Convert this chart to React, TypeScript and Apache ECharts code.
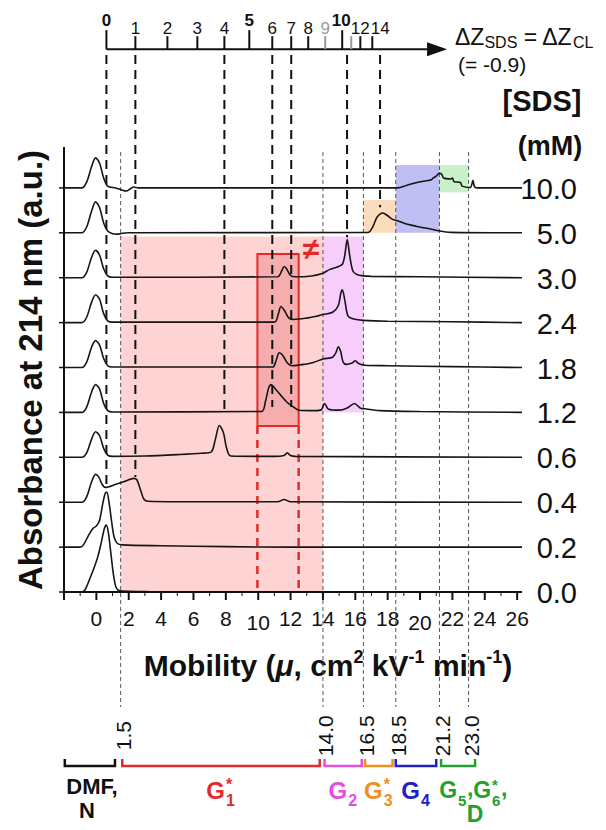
import React, { useEffect, useRef } from 'react';
import * as echarts from 'echarts';

const FONT = '"Liberation Sans", Arial, Helvetica, sans-serif';

const X_MIN = -2;
const X_MAX = 26.3;
const Y_MIN = -5.3;
const Y_MAX = 13.185;

// [SDS] (mM) of each trace, bottom to top; trace i sits on baseline i
const sdsLabels = ['0.0', '0.2', '0.4', '0.6', '1.2', '1.8', '2.4', '3.0', '5.0', '10.0'];

// traces: [mobility, absorbance above own baseline]
const trace00 = [[-2, 0], [-0.9, 0], [-0.7, 0.05], [-0.4, 0.3], [-0.1, 0.58], [0.1, 0.8], [0.3, 1.1], [0.5, 1.42], [0.62, 1.49], [0.75, 1.3], [0.9, 0.85], [1.05, 0.4], [1.2, 0.12], [1.35, 0.04], [1.6, 0.02], [3, 0.01], [4, 0], [26.3, 0]];
const trace02 = [[-2, 0], [-1.0, 0], [-0.8, 0.05], [-0.5, 0.25], [-0.2, 0.42], [0, 0.47], [0.2, 0.6], [0.4, 0.98], [0.55, 1.2], [0.65, 1.22], [0.8, 0.95], [0.95, 0.55], [1.1, 0.22], [1.3, 0.08], [1.6, 0.05], [4, 0.03], [8, 0.01], [12, 0], [26.3, 0]];
const trace04 = [[-2, 0], [-0.9, 0], [-0.6, 0.12], [-0.3, 0.45], [-0.05, 0.62], [0.15, 0.56], [0.35, 0.4], [0.55, 0.33], [1.2, 0.4], [1.8, 0.47], [2.3, 0.53], [2.5, 0.5], [2.75, 0.25], [2.95, 0.06], [3.2, 0.02], [5, 0.01], [11.2, 0.01], [11.6, 0.06], [12, 0.01], [26.3, 0]];
const trace06 = [[-2, 0], [-0.9, 0], [-0.6, 0.1], [-0.3, 0.4], [-0.05, 0.57], [0.2, 0.48], [0.45, 0.2], [0.7, 0.05], [1, 0.02], [3, 0.03], [5, 0.06], [6.5, 0.09], [7.1, 0.12], [7.35, 0.4], [7.6, 0.71], [7.85, 0.55], [8.05, 0.2], [8.3, 0.03], [11, 0.02], [11.6, 0.04], [11.8, 0.1], [12, 0.04], [12.3, 0.02], [26.3, 0]];
const trace12 = [[-2, 0], [-0.9, 0], [-0.6, 0.12], [-0.3, 0.45], [-0.05, 0.62], [0.2, 0.52], [0.45, 0.2], [0.7, 0.04], [1, 0.01], [10.2, 0.02], [10.45, 0.25], [10.65, 0.55], [10.8, 0.62], [11, 0.55], [11.4, 0.38], [11.8, 0.22], [12.1, 0.14], [12.5, 0.05], [13.5, 0.04], [13.9, 0.06], [14.1, 0.2], [14.35, 0.07], [15, 0.05], [15.5, 0.1], [15.95, 0.2], [16.3, 0.1], [16.6, 0.08], [17.5, 0.04], [20, 0.02], [26.3, 0]];
const trace18 = [[-2, 0], [-0.9, 0], [-0.6, 0.12], [-0.3, 0.45], [-0.05, 0.6], [0.2, 0.5], [0.45, 0.2], [0.7, 0.04], [1, 0.01], [10.9, 0.01], [11.1, 0.15], [11.3, 0.33], [11.5, 0.28], [11.8, 0.1], [12.1, 0.04], [13, 0.08], [13.4, 0.11], [14, 0.19], [14.6, 0.23], [14.8, 0.33], [14.95, 0.46], [15.1, 0.35], [15.25, 0.12], [15.45, 0.07], [15.8, 0.1], [16, 0.15], [16.2, 0.09], [16.6, 0.05], [18, 0.04], [22, 0.02], [26.3, 0]];
const trace24 = [[-2, 0], [-0.9, 0], [-0.6, 0.12], [-0.3, 0.45], [-0.05, 0.62], [0.2, 0.52], [0.45, 0.2], [0.7, 0.04], [1, 0.01], [11, 0.01], [11.25, 0.2], [11.4, 0.36], [11.6, 0.28], [11.9, 0.1], [12.2, 0.07], [13, 0.1], [13.6, 0.14], [14, 0.18], [14.6, 0.23], [14.95, 0.38], [15.1, 0.65], [15.2, 0.73], [15.35, 0.5], [15.55, 0.15], [15.9, 0.08], [16.5, 0.05], [18, 0.03], [22, 0.02], [26.3, 0]];
const trace30 = [[-2, 0], [-0.9, 0], [-0.6, 0.12], [-0.3, 0.45], [-0.05, 0.61], [0.2, 0.5], [0.45, 0.2], [0.7, 0.04], [1, 0.01], [11.2, 0.02], [11.45, 0.15], [11.6, 0.25], [11.75, 0.2], [12, 0.05], [12.3, 0.02], [13.3, 0.04], [14, 0.1], [14.4, 0.18], [14.9, 0.24], [15.2, 0.3], [15.35, 0.5], [15.5, 0.85], [15.65, 0.5], [15.85, 0.15], [16.1, 0.07], [16.5, 0.04], [17, 0.03], [20, 0.02], [26.3, 0]];
const trace50 = [[-2, 0], [-0.9, 0], [-0.6, 0.13], [-0.3, 0.48], [-0.05, 0.69], [0.2, 0.56], [0.45, 0.22], [0.7, 0.04], [1, -0.02], [1.3, -0.03], [1.6, -0.01], [2, 0], [16.8, 0.01], [17.1, 0.15], [17.35, 0.35], [17.7, 0.44], [18, 0.38], [18.3, 0.3], [18.6, 0.27], [19.1, 0.2], [19.6, 0.16], [20.1, 0.12], [20.6, 0.09], [21.2, 0.04], [21.9, 0.01], [26.3, 0]];
const trace100 = [[-2, 0], [-0.9, 0], [-0.6, 0.13], [-0.3, 0.47], [-0.05, 0.67], [0.2, 0.55], [0.45, 0.22], [0.7, 0.04], [1.2, 0], [1.6, -0.05], [1.85, -0.07], [2.1, -0.02], [2.3, 0.02], [2.6, 0], [18.6, 0], [19.2, 0.06], [19.8, 0.12], [20.4, 0.16], [20.7, 0.18], [20.8, 0.22], [21, 0.26], [21.2, 0.33], [21.35, 0.3], [21.45, 0.22], [21.9, 0.2], [22, 0.22], [22.1, 0.14], [22.5, 0.12], [22.6, 0.04], [23.1, 0.01], [23.2, 0.08], [23.27, 0.17], [23.35, 0.04], [23.5, 0], [26.3, 0]];
const traces = [trace00, trace02, trace04, trace06, trace12, trace18, trace24, trace30, trace50, trace100];

// bottom mobility axis
const xMajorTicks = [-2, 0, 2, 4, 6, 8, 10, 12, 14, 16, 18, 20, 22, 24, 26];
const xMinorTicks = [-1, 1, 3, 5, 7, 9, 11, 13, 15, 17, 19, 21, 23, 25];
const xTickLabels = ['', '0', '2', '4', '6', '8', '10', '12', '14', '16', '18', '20', '22', '24', '26'];
const yAxisTop = 9.91;

// top ΔZ axis: label and mobility position of each tick
const topTickLabels = ['0', '1', '2', '3', '4', '5', '6', '7', '8', '9', '10', '', '12', '14'];
const topTickMu = [0.62, 2.41, 4.39, 6.24, 7.91, 9.45, 10.87, 12.04, 13.09, 14.14, 15.19, 15.75, 16.31, 17.05];
const topAxisY = 12.09;
const topArrowEnd = 21.67;

// dashed guides from the ΔZ axis down to the peaks
const guideMu = [0.62, 2.41, 7.91, 10.87, 12.04, 15.49, 17.53];
const guideEnd = [2.27, 2.56, 3.94, 4.12, 4.12, 7.9, 8.57];
const guideTop = 11.96;

// group boundaries (mobility)
const regionBounds = [1.5, 14.0, 16.5, 18.5, 21.2, 23.0];
const boundLabels = ['1.5', '14.0', '16.5', '18.5', '21.2', '23.0'];
const boundTop = 9.8;
const boundBottom = -2.56;
const boundLabelY = -3.2;

// shaded regions
const shadeX0 = [1.5, 14.0, 16.5, 18.5, 21.2];
const shadeX1 = [14.0, 16.5, 18.5, 21.2, 23.0];
const shadeY0 = [0, 4.0, 8.0, 8.0, 8.9];
const shadeY1 = [7.92, 7.92, 8.73, 9.51, 9.51];
const shadeColors = ['#fdd3d3', '#f6cdfb', '#fbdcbd', '#bfbff3', '#c8f1c8'];

// red highlight box and its dashed legs
const boxX = [9.95, 12.5];
const boxY = [3.7, 7.53];
const neqPos = [13.26, 7.66];

// group brackets
const bracketStart = [-1.95, 1.6, 14.1, 16.6, 18.5, 21.3];
const bracketEnd = [1.15, 13.8, 16.4, 18.3, 21.0, 23.4];
const bracketY = -3.875;
const groupLabelY = -4.41;
const groupSub = ['', '1', '2', '3', '4', '5'];
const groupStar = [false, true, false, true, false, false];
const groupColors = ['#111111', '#e42a2a', '#e34fe3', '#ef8f1e', '#2020c4', '#22a030'];

const txt = (text: string, x: number, y: number, size: number, color: string, o: any = {}) => ({
  type: 'text',
  x,
  y,
  rotation: o.rotation || 0,
  scaleX: o.scaleX || 1,
  style: {
    text,
    fill: color,
    fontSize: size,
    fontWeight: o.weight || 'normal',
    fontFamily: FONT,
    align: o.align || 'center',
    verticalAlign: o.va || 'middle',
    textAlign: o.align || 'center',
    textVerticalAlign: o.va || 'middle',
    rich: o.rich,
  },
});

const vlines = (xs: number[], y0: number[], y1: number[], style: any, z: number) => ({
  type: 'custom',
  coordinateSystem: 'cartesian2d',
  silent: true,
  z,
  data: xs.map((x, i) => [x, y0[i], y1[i]]),
  renderItem: (params: any, api: any) => {
    const a = api.coord([api.value(0), api.value(1)]);
    const b = api.coord([api.value(0), api.value(2)]);
    return { type: 'line', shape: { x1: a[0], y1: a[1], x2: b[0], y2: b[1] }, style: { ...style, fill: null } };
  },
});

export default function App() {
  const ref = useRef<HTMLDivElement>(null);
  useEffect(() => {
    document.body.style.margin = '0';
    const chart = echarts.init(ref.current!, null, { renderer: 'svg' });

    const series: any[] = [];

    // shaded regions
    series.push({
      type: 'custom', coordinateSystem: 'cartesian2d', silent: true, z: 1,
      data: shadeX0.map((x, i) => [x, shadeY0[i], shadeX1[i], shadeY1[i]]),
      renderItem: (params: any, api: any) => {
        const p0 = api.coord([api.value(0), api.value(1)]);
        const p1 = api.coord([api.value(2), api.value(3)]);
        return {
          type: 'rect',
          shape: { x: p0[0], y: p1[1], width: p1[0] - p0[0], height: p0[1] - p1[1] },
          style: { fill: shadeColors[params.dataIndex] },
        };
      },
    });
    // red box
    series.push({
      type: 'custom', coordinateSystem: 'cartesian2d', silent: true, z: 2,
      data: [[boxX[0], boxY[0], boxX[1], boxY[1]]],
      renderItem: (params: any, api: any) => {
        const p0 = api.coord([api.value(0), api.value(1)]);
        const p1 = api.coord([api.value(2), api.value(3)]);
        return {
          type: 'rect',
          shape: { x: p0[0], y: p1[1], width: p1[0] - p0[0], height: p0[1] - p1[1] },
          style: { fill: '#f6adad', stroke: '#e32a2a', lineWidth: 2 },
        };
      },
    });
    // boundary thin dashed lines
    series.push(vlines(regionBounds, regionBounds.map(() => boundTop), regionBounds.map(() => boundBottom),
      { stroke: '#555', lineWidth: 1, lineDash: [4, 3] }, 2));
    // guide dashed lines
    series.push(vlines(guideMu, guideMu.map(() => guideTop), guideEnd,
      { stroke: '#111', lineWidth: 2, lineDash: [9, 6] }, 2));
    // red dashed legs
    series.push(vlines(boxX, boxX.map(() => boxY[0]), boxX.map(() => 0),
      { stroke: '#e32a2a', lineWidth: 2.5, lineDash: [8, 6] }, 2));

    // traces
    traces.forEach((t, i) => {
      series.push({
        type: 'line',
        name: sdsLabels[i],
        data: t.map(([x, v]) => [x, v + i]),
        showSymbol: false,
        symbol: 'none',
        smooth: 0.3,
        silent: true,
        z: 3,
        lineStyle: { color: '#161616', width: 1.6 },
      });
    });

    // axes lines + ticks
    series.push({
      type: 'custom', coordinateSystem: 'cartesian2d', silent: true, z: 5,
      data: [[X_MIN, 0, X_MAX, yAxisTop]],
      renderItem: (params: any, api: any) => {
        const o = api.coord([api.value(0), api.value(1)]);
        const xe = api.coord([api.value(2), api.value(1)]);
        const ye = api.coord([api.value(0), api.value(3)]);
        return {
          type: 'group',
          children: [
            { type: 'line', shape: { x1: o[0], y1: o[1], x2: xe[0], y2: xe[1] }, style: { stroke: '#111', lineWidth: 2 } },
            { type: 'line', shape: { x1: o[0], y1: o[1], x2: ye[0], y2: ye[1] }, style: { stroke: '#111', lineWidth: 2 } },
          ],
        };
      },
    });
    series.push({
      type: 'custom', coordinateSystem: 'cartesian2d', silent: true, z: 5,
      data: xMajorTicks.map((v) => [v, 0]),
      renderItem: (params: any, api: any) => {
        const p = api.coord([api.value(0), 0]);
        const lab = xTickLabels[params.dataIndex];
        const children: any[] = [
          { type: 'line', shape: { x1: p[0], y1: p[1], x2: p[0], y2: p[1] + 8 }, style: { stroke: '#111', lineWidth: 2 } },
        ];
        if (lab) {
          const nudge = lab === '10' || lab === '20' ? 4 : 0;
          children.push(txt(lab, p[0], p[1] + 26 + nudge, 21, '#111'));
        }
        return { type: 'group', children };
      },
    });
    series.push({
      type: 'custom', coordinateSystem: 'cartesian2d', silent: true, z: 5,
      data: xMinorTicks.map((v) => [v, 0]),
      renderItem: (params: any, api: any) => {
        const p = api.coord([api.value(0), 0]);
        return { type: 'line', shape: { x1: p[0], y1: p[1], x2: p[0], y2: p[1] + 4 }, style: { stroke: '#111', lineWidth: 1 } };
      },
    });
    // y ticks + right labels
    series.push({
      type: 'custom', coordinateSystem: 'cartesian2d', silent: true, z: 5,
      data: sdsLabels.map((_, i) => [X_MIN, i, X_MAX]),
      renderItem: (params: any, api: any) => {
        const p = api.coord([api.value(0), api.value(1)]);
        const r = api.coord([api.value(2), api.value(1)]);
        return {
          type: 'group',
          children: [
            { type: 'line', shape: { x1: p[0] - 5, y1: p[1], x2: p[0], y2: p[1] }, style: { stroke: '#111', lineWidth: 1.5 } },
            txt(sdsLabels[params.dataIndex], r[0] + 55, p[1] + 1, 29, '#111', { align: 'right' }),
          ],
        };
      },
    });

    // top ΔZ axis
    series.push({
      type: 'custom', coordinateSystem: 'cartesian2d', silent: true, z: 5,
      data: [[topTickMu[0], topAxisY, topArrowEnd]],
      renderItem: (params: any, api: any) => {
        const a = api.coord([api.value(0), api.value(1)]);
        const b = api.coord([api.value(2), api.value(1)]);
        return {
          type: 'group',
          children: [
            { type: 'line', shape: { x1: a[0], y1: a[1], x2: b[0] - 12, y2: b[1] }, style: { stroke: '#111', lineWidth: 2 } },
            { type: 'polygon', shape: { points: [[b[0], b[1]], [b[0] - 20, b[1] - 7], [b[0] - 20, b[1] + 7]] }, style: { fill: '#111' } },
          ],
        };
      },
    });
    series.push({
      type: 'custom', coordinateSystem: 'cartesian2d', silent: true, z: 5,
      data: topTickMu.map((m) => [m, topAxisY]),
      renderItem: (params: any, api: any) => {
        const i = params.dataIndex;
        const p = api.coord([api.value(0), api.value(1)]);
        const lab = topTickLabels[i];
        const bold = lab === '0' || lab === '5' || lab === '10';
        const grey = i === 9 || i === 11;
        const color = grey ? '#9a9a9a' : '#111';
        const len = bold ? 19 : 13;
        const nudge = lab === '14' ? 8 : lab === '10' ? -1 : 0;
        const children: any[] = [
          { type: 'line', shape: { x1: p[0], y1: p[1], x2: p[0], y2: p[1] - len }, style: { stroke: color, lineWidth: 2 } },
        ];
        if (lab) {
          children.push(txt(lab, p[0] + nudge, p[1] - (bold ? 29 : 21), 17, color, { weight: bold ? 'bold' : 'normal' }));
        }
        return { type: 'group', children };
      },
    });

    // ≠ mark
    series.push({
      type: 'custom', coordinateSystem: 'cartesian2d', silent: true, z: 6,
      data: [neqPos],
      renderItem: (params: any, api: any) => {
        const p = api.coord([api.value(0), api.value(1)]);
        return txt('≠', p[0], p[1], 30, '#e32a2a', { weight: 'bold' });
      },
    });

    // boundary value labels (rotated)
    series.push({
      type: 'custom', coordinateSystem: 'cartesian2d', silent: true, z: 5,
      data: regionBounds.map((b) => [b, boundLabelY]),
      renderItem: (params: any, api: any) => {
        const p = api.coord([api.value(0), api.value(1)]);
        return txt(boundLabels[params.dataIndex], p[0] + 3, p[1], 21, '#111', { rotation: Math.PI / 2 });
      },
    });

    // brackets and group labels
    series.push({
      type: 'custom', coordinateSystem: 'cartesian2d', silent: true, z: 5,
      data: bracketStart.map((s, i) => [s, bracketY, bracketEnd[i], groupLabelY]),
      renderItem: (params: any, api: any) => {
        const i = params.dataIndex;
        const c = groupColors[i];
        const a = api.coord([api.value(0), api.value(1)]);
        const b = api.coord([api.value(2), api.value(1)]);
        const cy = api.coord([api.value(0), api.value(3)])[1];
        const cx = (a[0] + b[0]) / 2;
        const children: any[] = [
          { type: 'polyline', shape: { points: [[a[0], a[1] - 7], [a[0], a[1]], [b[0], b[1]], [b[0], b[1] - 7]] }, style: { stroke: c, lineWidth: 2.5, fill: null } },
        ];
        const B = { weight: 'bold' };
        const R = { weight: 'bold', align: 'right' };
        const L = { weight: 'bold', align: 'left' };
        if (i === 0) {
          children.push(txt('DMF,', cx + 2, cy - 4, 22, c, B));
          children.push(txt('N', cx - 3, cy + 20, 22, c, B));
        } else if (i === 5) {
          children.push(txt('G', cx - 1, cy, 23, c, R));
          children.push(txt('5', cx, cy + 10, 15, c, L));
          children.push(txt(',', cx + 9, cy - 2, 23, c, L));
          children.push(txt('G', cx + 33, cy, 23, c, R));
          children.push(txt('*', cx + 34, cy - 6, 15, c, L));
          children.push(txt('6', cx + 34, cy + 10, 15, c, L));
          children.push(txt(',', cx + 43, cy - 2, 23, c, L));
          children.push(txt('D', cx + 17, cy + 24, 23, c, B));
        } else {
          children.push(txt('G', cx + 4, cy, 24, c, R));
          children.push(txt(groupSub[i], cx + 5, cy + 10, 16, c, L));
          if (groupStar[i]) children.push(txt('*', cx + 5, cy - 6, 16, c, L));
        }
        return { type: 'group', children };
      },
    });

    const option: any = {
      animation: false,
      backgroundColor: '#ffffff',
      grid: { left: 64, right: 84, top: 0, bottom: 0 },
      xAxis: { type: 'value', min: X_MIN, max: X_MAX, show: false },
      yAxis: { type: 'value', min: Y_MIN, max: Y_MAX, show: false },
      series,
      graphic: [
        txt('Absorbance at 214 nm (a.u.)', 30, 370, 33, '#111', { weight: 'bold', rotation: Math.PI / 2 }),
        txt('{b|Mobility (}{i|μ}{b|, cm}{s|2}{b| kV}{s|-1}{b| min}{s|-1}{b|)}', 328, 665, 30, '#111', {
          weight: 'bold',
          rich: {
            b: { fontSize: 30, fontWeight: 'bold', fontFamily: FONT, fill: '#111', lineHeight: 34 },
            i: { fontSize: 30, fontWeight: 'bold', fontStyle: 'italic', fontFamily: FONT, fill: '#111', lineHeight: 34 },
            s: { fontSize: 18, fontWeight: 'bold', fontFamily: FONT, fill: '#111', lineHeight: 18, verticalAlign: 'top' },
          },
        }),
        txt('{a|ΔZ}{s|SDS}{a| = ΔZ}{s|CL}', 455, 37, 23, '#111', {
          align: 'left',
          rich: {
            a: { fontSize: 23, fontFamily: FONT, fill: '#111', lineHeight: 26 },
            s: { fontSize: 16, fontFamily: FONT, fill: '#111', lineHeight: 8, verticalAlign: 'bottom' },
          },
        }),
        txt('(= -0.9)', 458, 64, 21, '#111', { align: 'left' }),
        txt('[SDS]', 542, 101, 29, '#111', { weight: 'bold' }),
        txt('(mM)', 550, 146, 27, '#111', { weight: 'bold' }),
      ],
    };
    chart.setOption(option);
    return () => chart.dispose();
  }, []);
  return <div ref={ref} style={{ width: 606, height: 830 }} />;
}
